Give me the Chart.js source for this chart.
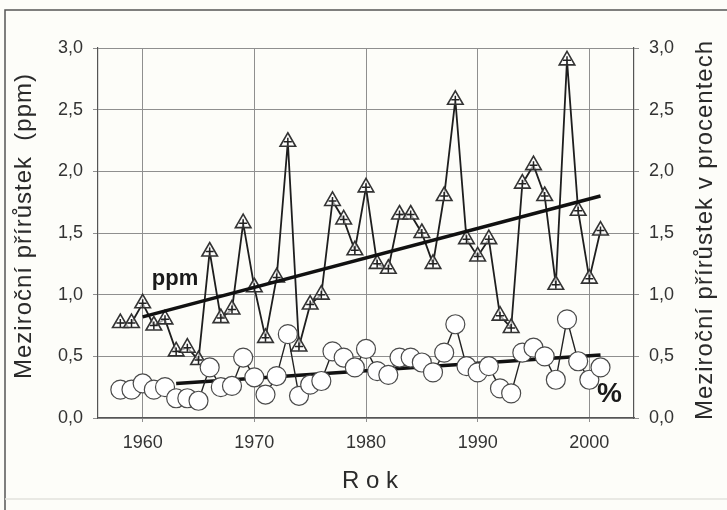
<!DOCTYPE html>
<html>
<head>
<meta charset="utf-8">
<script src="https://cdn.jsdelivr.net/npm/chart.js@4.4.1/dist/chart.umd.min.js"></script>
<style>
  html, body { margin: 0; padding: 0; background: #fdfdf9; }
  #wrap { width: 727px; height: 510px; }
</style>
</head>
<body>
<div id="wrap"><canvas id="c" width="727" height="510"></canvas></div>
<script>
const years = [1958, 1959, 1960, 1961, 1962, 1963, 1964, 1965, 1966, 1967, 1968, 1969,
  1970, 1971, 1972, 1973, 1974, 1975, 1976, 1977, 1978, 1979, 1980, 1981, 1982, 1983,
  1984, 1985, 1986, 1987, 1988, 1989, 1990, 1991, 1992, 1993, 1994, 1995, 1996, 1997,
  1998, 1999, 2000, 2001];
// meziroční přírůstek v ppm (trojúhelníky)
const ppmValues = [0.77, 0.77, 0.93, 0.75, 0.80, 0.54, 0.57, 0.47, 1.35, 0.81, 0.88, 1.58,
  1.06, 0.65, 1.14, 2.24, 0.58, 0.92, 1.00, 1.76, 1.61, 1.36, 1.87, 1.25, 1.21, 1.65,
  1.65, 1.50, 1.25, 1.80, 2.58, 1.45, 1.31, 1.45, 0.83, 0.73, 1.90, 2.05, 1.80, 1.08,
  2.90, 1.68, 1.13, 1.52];
// meziroční přírůstek v procentech (kroužky)
const pctValues = [0.23, 0.23, 0.28, 0.23, 0.25, 0.16, 0.16, 0.14, 0.41, 0.25, 0.26, 0.49,
  0.33, 0.19, 0.34, 0.68, 0.18, 0.27, 0.30, 0.54, 0.49, 0.41, 0.56, 0.38, 0.35, 0.49,
  0.49, 0.45, 0.37, 0.53, 0.76, 0.42, 0.37, 0.42, 0.24, 0.20, 0.53, 0.57, 0.50, 0.31,
  0.80, 0.46, 0.31, 0.41];
// trendy (koncové body)
const ppmTrend = [[1960, 0.82], [2001, 1.80]];
const pctTrend = [[1963, 0.28], [2001, 0.51]];
const xTicks = [1960, 1970, 1980, 1990, 2000];

const pts = (vals) => years.map((y, i) => ({ x: y, y: vals[i] }));
const trend = (t) => t.map(p => ({ x: p[0], y: p[1] }));
const fmt = v => v.toFixed(1).replace('.', ',');

const tickFont = { family: "'Liberation Sans', Arial", size: 18 };

const frame = {
  id: 'frame',
  beforeDraw(chart) {
    const ctx = chart.ctx;
    ctx.save();
    ctx.fillStyle = '#fdfdf9';
    ctx.fillRect(0, 0, chart.width, chart.height);
    ctx.strokeStyle = '#555';
    ctx.lineWidth = 1.5;
    ctx.beginPath();
    ctx.moveTo(5, 510);
    ctx.lineTo(5, 10);
    ctx.lineTo(727, 10);
    ctx.stroke();
    ctx.strokeStyle = '#e2e2dc';
    ctx.beginPath();
    ctx.moveTo(5, 499);
    ctx.lineTo(727, 499);
    ctx.stroke();
    ctx.restore();
  }
};

const texts = {
  id: 'texts',
  afterDraw(chart) {
    const ctx = chart.ctx;
    const x = chart.scales.x, y = chart.scales.y;
    ctx.save();
    ctx.fillStyle = '#2a2a2a';
    ctx.textAlign = 'center';
    ctx.textBaseline = 'middle';
    ctx.font = "24px 'Liberation Sans', Arial";
    ctx.letterSpacing = '1px';

    ctx.save();
    ctx.translate(24, 226);
    ctx.rotate(-Math.PI / 2);
    ctx.fillText('Meziroční přírůstek  (ppm)', 0, 0);
    ctx.restore();

    ctx.save();
    ctx.translate(705, 230);
    ctx.rotate(-Math.PI / 2);
    ctx.fillText('Meziroční přírůstek v procentech', 0, 0);
    ctx.restore();

    ctx.letterSpacing = '0px';
    ctx.fillText('R o k', 370, 481);

    ctx.fillStyle = '#1a1a1a';
    ctx.font = "bold 22px 'Liberation Sans', Arial";
    ctx.fillText('ppm', x.getPixelForValue(1962.9), y.getPixelForValue(1.13));
    ctx.font = "bold 28px 'Liberation Sans', Arial";
    ctx.fillText('%', x.getPixelForValue(2001.8), y.getPixelForValue(0.19));
    ctx.restore();
  }
};

new Chart(document.getElementById('c'), {
  type: 'line',
  data: {
    datasets: [
      {
        data: pts(pctValues),
        order: 0,
        borderColor: '#222',
        borderWidth: 1.4,
        pointStyle: 'circle',
        pointRadius: 9.5,
        pointBackgroundColor: '#fff',
        pointBorderColor: '#4a4a4a',
        pointBorderWidth: 1.2,
        yAxisID: 'y2',
      },
      {
        data: trend(pctTrend),
        order: 1,
        borderColor: '#111',
        borderWidth: 3.5,
        pointRadius: 0,
        yAxisID: 'y2',
      },
      {
        data: trend(ppmTrend),
        order: 2,
        borderColor: '#111',
        borderWidth: 3.5,
        pointRadius: 0,
      },
      {
        data: pts(ppmValues),
        order: 3,
        showLine: false,
        pointStyle: 'cross',
        pointRadius: 4,
        pointBorderColor: '#222',
        pointBorderWidth: 1.5,
      },
      {
        data: pts(ppmValues),
        order: 4,
        borderColor: '#1e1e1e',
        borderWidth: 1.8,
        pointStyle: 'triangle',
        pointRadius: 9,
        pointBackgroundColor: 'rgba(255,255,255,0.6)',
        pointBorderColor: '#333',
        pointBorderWidth: 1.6,
      },
    ],
  },
  options: {
    responsive: false,
    devicePixelRatio: 1,
    animation: false,
    events: [],
    layout: { padding: { top: 48, left: 0, right: 0, bottom: 0 } },
    plugins: { legend: { display: false }, tooltip: { enabled: false } },
    elements: { line: { tension: 0 } },
    scales: {
      x: {
        type: 'linear',
        min: 1956,
        max: 2004,
        afterBuildTicks: s => { s.ticks = xTicks.map(v => ({ value: v })); },
        afterFit: s => { s.height = 92; },
        grid: { color: '#8f8f8f', lineWidth: 1, tickLength: 4 },
        border: { color: '#555', width: 1.2 },
        ticks: { color: '#333', font: tickFont, padding: 10, maxRotation: 0,
          callback: v => String(v) },
      },
      y: {
        position: 'left',
        min: 0,
        max: 3,
        afterFit: s => { s.width = 98; },
        grid: { color: '#8f8f8f', lineWidth: 1, tickLength: 5 },
        border: { color: '#555', width: 1.2 },
        ticks: { stepSize: 0.5, color: '#333', font: tickFont, padding: 10, callback: fmt },
      },
      y2: {
        position: 'right',
        min: 0,
        max: 3,
        afterFit: s => { s.width = 93; },
        grid: { drawOnChartArea: false, color: '#8f8f8f', tickLength: 5 },
        border: { color: '#555', width: 1.2 },
        ticks: { stepSize: 0.5, color: '#333', font: tickFont, padding: 10, callback: fmt },
      },
    },
  },
  plugins: [frame, texts],
});
</script>
</body>
</html>
